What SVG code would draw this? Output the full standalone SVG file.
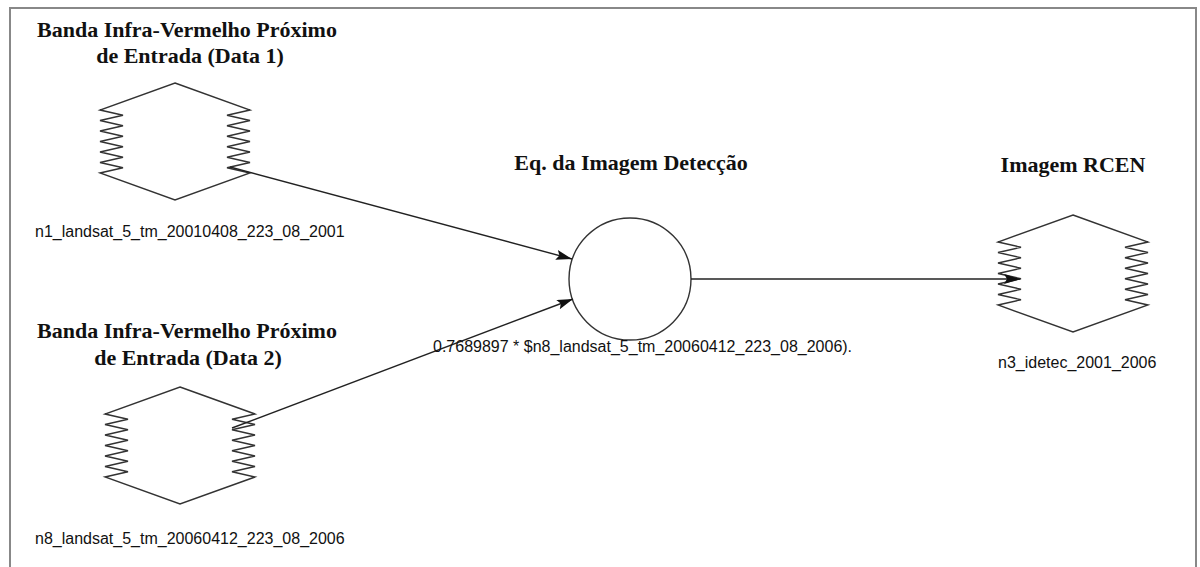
<svg xmlns="http://www.w3.org/2000/svg" xmlns:xlink="http://www.w3.org/1999/xlink" width="1200" height="567" viewBox="0 0 1200 567">
<style>
.title{font-family:"Liberation Serif","Times New Roman",serif;font-weight:bold;font-size:22px;fill:#111;text-anchor:middle}
.lbl{font-family:"Liberation Sans",Arial,sans-serif;font-size:16px;fill:#111}
.shape{fill:#fff;stroke:#333;stroke-width:1.4;stroke-linejoin:miter}
.edge{fill:none;stroke:#222;stroke-width:1.4}
</style>
<defs>
<path id="hex" d="M75,0 L150,27 L127,32.25 L150,37.5 L127,42.75 L150,48 L127,53.25 L150,58.5 L127,63.75 L150,69 L127,74.25 L150,79.5 L127,84.75 L150,90 L75,117 L0,90 L23,84.75 L0,79.5 L23,74.25 L0,69 L23,63.75 L0,58.5 L23,53.25 L0,48 L23,42.75 L0,37.5 L23,32.25 L0,27 Z"/>
<marker id="arr" markerUnits="userSpaceOnUse" markerWidth="18" markerHeight="12" refX="16" refY="5" orient="auto">
<path d="M0,0 L16,5 L0,10 L3,5 Z" fill="#111"/>
</marker>
</defs>
<rect x="0" y="0" width="1200" height="567" fill="#fff"/>
<rect x="10" y="8" width="1186" height="590" fill="none" stroke="#888" stroke-width="2"/>

<g id="n1">
<use xlink:href="#hex" href="#hex" class="shape" transform="translate(100,83)"/>
<text class="title" x="187" y="37">Banda Infra-Vermelho Próximo</text>
<text class="title" x="190" y="63">de Entrada (Data 1)</text>
<text class="lbl" x="35" y="237">n1_landsat_5_tm_20010408_223_08_2001</text>
</g>

<g id="n8">
<use xlink:href="#hex" href="#hex" class="shape" transform="translate(105,387)"/>
<text class="title" x="187" y="338">Banda Infra-Vermelho Próximo</text>
<text class="title" x="188" y="365">de Entrada (Data 2)</text>
<text class="lbl" x="35" y="544">n8_landsat_5_tm_20060412_223_08_2006</text>
</g>

<g id="eq">
<circle cx="630" cy="279" r="61" class="shape"/>
<text class="title" x="631" y="170">Eq. da Imagem Detecção</text>
</g>

<g id="n3">
<use xlink:href="#hex" href="#hex" class="shape" transform="translate(998,215)"/>
<text class="title" x="1073" y="172">Imagem RCEN</text>
<text class="lbl" x="998" y="368">n3_idetec_2001_2006</text>
</g>

<g id="connectors">
<line class="edge" x1="230" y1="167" x2="572" y2="259" marker-end="url(#arr)"/>
<line class="edge" x1="232" y1="428" x2="573" y2="299" marker-end="url(#arr)"/>
<line class="edge" x1="691" y1="279" x2="1020" y2="279" marker-end="url(#arr)"/>
<text class="lbl" x="433" y="352">0.7689897 * $n8_landsat_5_tm_20060412_223_08_2006).</text>
</g>
</svg>
